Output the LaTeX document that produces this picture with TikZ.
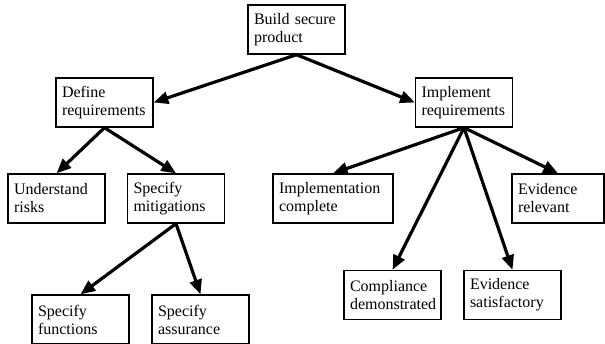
\documentclass[tikz,border=0pt]{standalone}
\usepackage{fontspec}
\setmainfont{Liberation Serif}
\usetikzlibrary{arrows.meta, positioning}

\tikzset{
    goal/.style={draw, line width=1pt, align=left, text width=#1, inner xsep=4.5pt,
        minimum height=36.75pt, font=\fontsize{12}{13.5}\selectfont},
    goal/.default=63.75pt,
    link/.style={line width=2.4pt, -{Triangle[length=11pt, width=9pt]}}
}

\begin{document}
\begin{tikzpicture}[x=0.75pt, y=-0.75pt]
    \useasboundingbox (0,0) rectangle (605,343);

    % Top goal
    \node[goal] (build) at (296.5,29.5) {Build secure\\product};

    % Second level
    \node[goal] (define) at (104.5,102.5) {Define\\requirements};
    \node[goal] (implement) at (464,102.5) {Implement\\requirements};

    % Third level
    \node[goal] (risks) at (56.5,198.5) {Understand\\risks};
    \node[goal] (mitigations) at (176,198.5) {Specify\\mitigations};
    \node[goal=81pt] (complete) at (333,198.5) {Implementation\\complete};
    \node[goal=60pt] (relevant) at (558,198.5) {Evidence\\relevant};
    \node[goal] (compliance) at (392.5,295) {Compliance\\demonstrated};
    \node[goal] (satisfactory) at (512.5,295) {Evidence\\satisfactory};

    % Bottom level
    \node[goal] (functions) at (80.5,319.5) {Specify\\functions};
    \node[goal] (assurance) at (200.5,319.5) {Specify\\assurance};

    % Links
    \draw[link] (build.south) -- (define.east);
    \draw[link] (build.south) -- (implement.west);
    \draw[link] (define.south) -- (risks.north);
    \draw[link] (define.south) -- (mitigations.north);
    \draw[link] (mitigations.south) -- (functions.north);
    \draw[link] (mitigations.south) -- (assurance.north);
    \draw[link] (implement.south) -- (complete.north);
    \draw[link] (implement.south) -- (compliance.north);
    \draw[link] (implement.south) -- (satisfactory.north);
    \draw[link] (implement.south) -- (relevant.north);
\end{tikzpicture}
\end{document}
